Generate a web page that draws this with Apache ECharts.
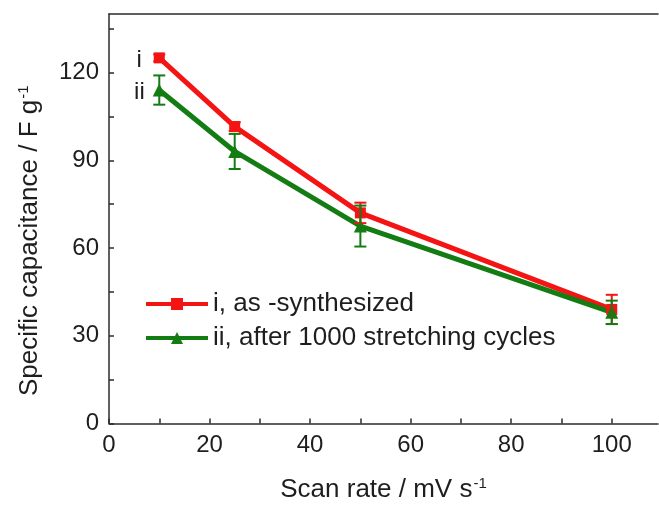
<!DOCTYPE html>
<html>
<head>
<meta charset="utf-8">
<script src="https://cdn.jsdelivr.net/npm/echarts@6/dist/echarts.min.js"></script>
<style>
  html, body { margin: 0; padding: 0; background: #fff; }
  #chart { width: 659px; height: 508px; }
</style>
</head>
<body>
<div id="chart"></div>
<script>
// Scan rates (mV/s)
const scanRates = [10, 25, 50, 100];
// Specific capacitance (F/g) and error bars
const asSynthesized = [125, 101.5, 72, 39];
const asSynthesizedErr = [1.2, 1.5, 3.5, 5];
const afterStretching = [114, 93, 67.5, 38];
const afterStretchingErr = [5, 6, 7, 4];

// Axis ticks
const xTicks = [0, 10, 20, 30, 40, 50, 60, 70, 80, 90, 100];
const xTickLabels = [0, 20, 40, 60, 80, 100];
const yTicks = [0, 15, 30, 45, 60, 75, 90, 105, 120, 135];
const yTickLabels = [0, 30, 60, 90, 120];

const seriesNames = ['i, as -synthesized', 'ii, after 1000 stretching cycles'];
const curveTags = ['i', 'ii'];

const RED = '#f41414';
const GREEN = '#137d13';
const AXIS = '#2b2b2b';
const TEXT = '#1e1e1e';
const FONT = 'Liberation Sans, Arial, sans-serif';
const FS = 24;
const TITLE_FS = 26;

function points(values, tag, offset) {
  return scanRates.map((x, i) => {
    const item = { value: [x, values[i]] };
    if (i === 0) {
      item.label = {
        show: true, position: 'left', distance: 12, offset: offset,
        formatter: tag, fontSize: FS, fontFamily: FONT, color: TEXT
      };
    }
    return item;
  });
}

function errorData(values, errs) {
  return scanRates.map((x, i) => [x, values[i] - errs[i], values[i] + errs[i]]);
}

function errorSeries(values, errs, color) {
  return {
    type: 'custom',
    silent: true,
    z: 4,
    data: errorData(values, errs),
    renderItem: function (params, api) {
      const lo = api.coord([api.value(0), api.value(1)]);
      const hi = api.coord([api.value(0), api.value(2)]);
      const half = 6;
      const style = { stroke: color, lineWidth: 2 };
      return {
        type: 'group',
        children: [
          { type: 'line', shape: { x1: lo[0], y1: lo[1], x2: hi[0], y2: hi[1] }, style: style },
          { type: 'line', shape: { x1: lo[0] - half, y1: lo[1], x2: lo[0] + half, y2: lo[1] }, style: style },
          { type: 'line', shape: { x1: hi[0] - half, y1: hi[1], x2: hi[0] + half, y2: hi[1] }, style: style }
        ]
      };
    }
  };
}

const supRich = { sup: { fontSize: 15, fontFamily: FONT, color: TEXT, verticalAlign: 'top', padding: [0, 0, 12, 1] } };

const chart = echarts.init(document.getElementById('chart'), null, { renderer: 'canvas' });

chart.setOption({
  animation: false,
  backgroundColor: '#fff',
  grid: { left: 109, top: 14, right: 1, bottom: 84 },
  legend: {
    orient: 'vertical',
    left: 144, top: 291, padding: 0,
    itemWidth: 62, itemHeight: 15, itemGap: 8,
    lineStyle: { width: 4 },
    textStyle: { fontSize: 26, fontFamily: FONT, color: TEXT },
    data: seriesNames
  },
  xAxis: [{
    type: 'value', min: 0, max: 109.2,
    name: 'Scan rate / mV s{sup|-1}',
    nameLocation: 'middle', nameGap: 53,
    nameTextStyle: { fontSize: TITLE_FS, fontFamily: FONT, color: TEXT, rich: supRich },
    axisLine: { show: true, lineStyle: { color: AXIS, width: 1.5 } },
    axisTick: { show: true, inside: true, length: 5, customValues: xTicks, lineStyle: { color: AXIS, width: 1.5 } },
    axisLabel: { fontSize: FS, fontFamily: FONT, color: TEXT, margin: 10, customValues: xTickLabels },
    splitLine: { show: false }
  }, {
    // top frame line
    type: 'value', position: 'top', min: 0, max: 109.2,
    axisLine: { show: true, onZero: false, lineStyle: { color: AXIS, width: 1.5 } },
    axisTick: { show: false }, axisLabel: { show: false }, splitLine: { show: false }
  }],
  yAxis: {
    type: 'value', min: 0, max: 140,
    name: 'Specific capacitance / F g{sup|-1}',
    nameLocation: 'middle', nameGap: 66, nameRotate: 90,
    nameTextStyle: { fontSize: TITLE_FS, fontFamily: FONT, color: TEXT, rich: supRich, padding: [0, 44, 0, 0] },
    axisLine: { show: true, lineStyle: { color: AXIS, width: 1.5 } },
    axisTick: { show: true, inside: true, length: 5, customValues: yTicks, lineStyle: { color: AXIS, width: 1.5 } },
    axisLabel: { fontSize: FS, fontFamily: FONT, color: TEXT, margin: 10, customValues: yTickLabels },
    splitLine: { show: false }
  },
  series: [
    {
      name: seriesNames[0],
      type: 'line',
      z: 3,
      data: points(asSynthesized, curveTags[0], [0, 2]),
      color: RED,
      lineStyle: { color: RED, width: 5 },
      itemStyle: { color: RED },
      symbol: 'rect', symbolSize: 11,
      showAllSymbol: true
    },
    {
      name: seriesNames[1],
      type: 'line',
      z: 3,
      data: points(afterStretching, curveTags[1], [4, 2]),
      color: GREEN,
      lineStyle: { color: GREEN, width: 5 },
      itemStyle: { color: GREEN },
      symbol: 'triangle', symbolSize: 13,
      showAllSymbol: true
    },
    errorSeries(asSynthesized, asSynthesizedErr, RED),
    errorSeries(afterStretching, afterStretchingErr, GREEN)
  ]
});
</script>
</body>
</html>
